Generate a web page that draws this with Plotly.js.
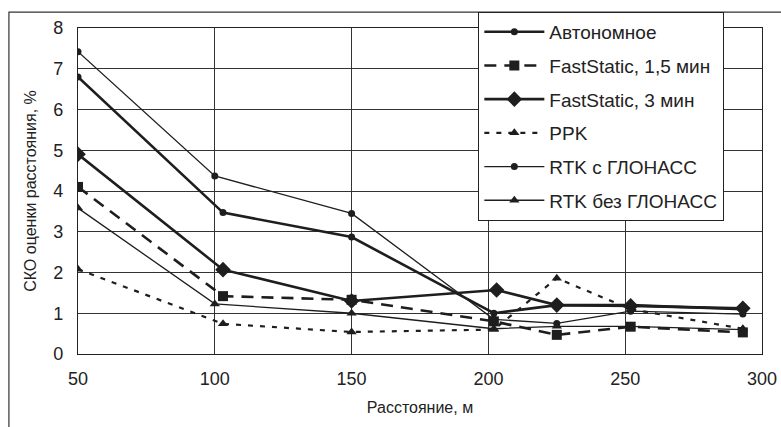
<!DOCTYPE html>
<html>
<head>
<meta charset="utf-8">
<script src="https://cdn.plot.ly/plotly-3.0.1.min.js"></script>
<style>html,body{margin:0;padding:0;background:#fff;}#chart{width:781px;height:427px;}</style>
</head>
<body>
<div id="chart"></div>
<script>
// Data
const seriesNames = ["Автономное", "FastStatic, 1,5 мин", "FastStatic, 3 мин", "PPK", "RTK с ГЛОНАСС", "RTK без ГЛОНАСС"];

const xAuto = [50, 103, 150, 202, 225, 252, 293];
const yAuto = [6.8, 3.47, 2.87, 1.0, 1.2, 1.2, 1.1];

const xFS15 = [50, 103, 150, 202, 225, 252, 293];
const yFS15 = [4.1, 1.42, 1.33, 0.8, 0.47, 0.67, 0.53];

const xFS3 = [50, 103, 150, 203, 225, 252, 293];
const yFS3 = [4.9, 2.07, 1.3, 1.57, 1.2, 1.18, 1.12];

const xPPK = [50, 103, 150, 202, 225, 252, 293];
const yPPK = [2.08, 0.74, 0.54, 0.6, 1.86, 1.1, 0.62];

const xRTKg = [50, 100, 150, 202, 225, 252, 293];
const yRTKg = [7.42, 4.37, 3.45, 0.85, 0.75, 1.05, 0.98];

const xRTKn = [50, 100, 150, 202, 225, 252, 293];
const yRTKn = [3.58, 1.23, 1.0, 0.62, 0.68, 0.68, 0.6];

const xTicks = [50, 100, 150, 200, 250, 300];
const yTicks = [0, 1, 2, 3, 4, 5, 6, 7, 8];

const ink = "#1e1e1e";

function tr(name, x, y, line, marker, g) {
  return {
    type: "scatter", mode: "lines+markers", name: name, x: x, y: y,
    line: line, marker: marker, legendgroup: g
  };
}

const traces = [
  tr(seriesNames[0], xAuto, yAuto, {color: ink, width: 2.6}, {symbol: "circle", size: 7, color: ink}, "g0"),
  tr(seriesNames[1], xFS15, yFS15, {color: ink, width: 2.6, dash: "12px,8px"}, {symbol: "square", size: 10, color: ink}, "g1"),
  tr(seriesNames[2], xFS3, yFS3, {color: ink, width: 2.6}, {symbol: "diamond", size: 12, color: ink}, "g2"),
  tr(seriesNames[3], xPPK, yPPK, {color: ink, width: 2.2, dash: "5px,7px"}, {symbol: "triangle-up", size: 9, color: ink}, "g3"),
  tr(seriesNames[4], xRTKg, yRTKg, {color: ink, width: 1.3}, {symbol: "circle", size: 7, color: ink}, "g4"),
  tr(seriesNames[5], xRTKn, yRTKn, {color: ink, width: 1.3}, {symbol: "triangle-up", size: 9, color: ink}, "g5")
];

const fontFam = "Liberation Sans, Arial, sans-serif";

const layout = {
  width: 781, height: 427,
  margin: {l: 78, r: 19, t: 28, b: 73},
  paper_bgcolor: "#ffffff",
  plot_bgcolor: "#ffffff",
  font: {family: fontFam, color: "#222", size: 16},
  showlegend: true,
  legend: {
    x: 0.585, y: 1.05, xanchor: "left", yanchor: "top",
    bgcolor: "#ffffff", bordercolor: "#222", borderwidth: 1.2,
    font: {family: fontFam, size: 19, color: "#222"},
    tracegroupgap: 6,
    itemwidth: 60,
    traceorder: "grouped"
  },
  xaxis: {
    range: [50, 300], tickvals: xTicks, ticktext: xTicks.map(String),
    showgrid: true, gridcolor: "#333", gridwidth: 1,
    zeroline: false, showline: true, linecolor: "#222", linewidth: 1.2, mirror: true,
    ticks: "", ticklabelstandoff: 8,
    tickfont: {family: fontFam, size: 18, color: "#222"},
    title: {text: "Расстояние, м", font: {family: fontFam, size: 16, color: "#222"}, standoff: 14}
  },
  yaxis: {
    range: [0, 8], tickvals: yTicks, ticktext: yTicks.map(String),
    showgrid: true, gridcolor: "#333", gridwidth: 1,
    zeroline: false, showline: true, linecolor: "#222", linewidth: 1.2, mirror: true,
    ticks: "", ticklabelstandoff: 10,
    tickfont: {family: fontFam, size: 18, color: "#222"},
    title: {text: "СКО оценки расстояния, %", font: {family: fontFam, size: 16, color: "#222"}, standoff: 12}
  },
  shapes: [
    {type: "path", xref: "paper", yref: "paper",
     path: "M -0.101,-0.23 L -0.101,1.049 L 1.04,1.049",
     line: {color: "#333", width: 1.2}}
  ]
};

Plotly.newPlot("chart", traces, layout, {displayModeBar: false, staticPlot: true});
</script>
</body>
</html>
